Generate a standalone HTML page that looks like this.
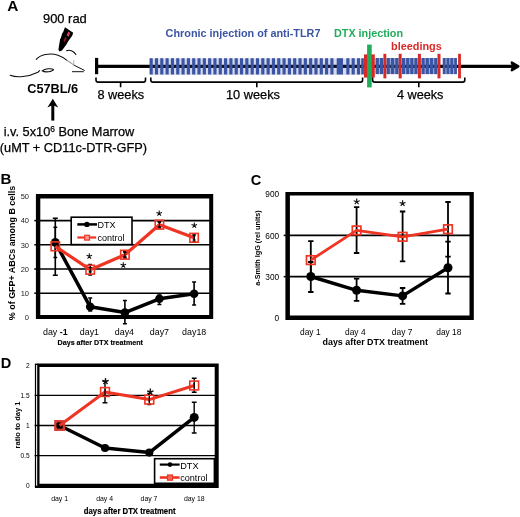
<!DOCTYPE html><html><head><meta charset="utf-8"><title>Figure</title>
<style>html,body{margin:0;padding:0;background:#fff;}body{width:520px;height:517px;overflow:hidden;}svg{display:block;}text{font-family:"Liberation Sans",sans-serif;fill:#000;}</style></head><body>
<svg width="520" height="517" viewBox="0 0 520 517">
<rect width="520" height="517" fill="#fff"/>
<g style="filter:blur(0.35px)">
<text x="7.3" y="11.0" font-size="15.4" font-weight="bold">A</text>
<text x="43.0" y="22.9" font-size="12.9" stroke="#000" stroke-width="0.25">900 rad</text>
<path d="M65.0,27.2 L73.2,32.8 L72.2,35.8 L68.4,41 L66.4,44.4 L62,50.4 L59.6,51.6 L58.4,49.8 L59.2,44.6 L60.2,38.8 L60.8,38.2 L62.2,33.2 L63,32.4 Z" fill="#000"/>
<path d="M68.3,31.4 L70.3,32.9 L68.4,36.8 L66.7,35.6 Z" fill="#dc4860"/>
<path d="M65.2,37.0 L66.5,37.9 L64.6,42.0 L63.5,41.2 Z" fill="#a8182c"/>
<g fill="none" stroke="#111" stroke-width="1.1" stroke-linecap="round">
<path d="M36.2,59.4 C40,54.6 50,52.4 58,55.2 C62,56.6 65,58.4 67,60.4"/>
<path d="M67,60.4 C69.5,61.8 72,63.4 73.9,65.1" stroke="#999"/>
<path d="M66.6,50.8 C69.5,49.4 73.6,50.6 75.9,54.6"/>
<path d="M73.9,65.1 L84.4,70.4" stroke-width="1"/>
<path d="M72.4,71.7 L83.4,71.7" stroke-width="1"/>
<path d="M73.6,60.6 L73.9,65.1" stroke="#bbb"/>
<path d="M10.2,75.3 C17,78 28,77 37.9,72.2 L39.6,70.6"/>
<path d="M42.2,70.8 C44.5,68.6 52,68.0 53.5,69.6 C52.5,71.8 45,72.8 42.2,70.8 Z"/>
</g>
<text x="27.2" y="93.2" font-size="12.75" font-weight="bold">C57BL/6</text>
<path d="M52.8,120.6 L52.8,104" stroke="#000" stroke-width="3" fill="none"/>
<path d="M52.8,98.8 L47.4,107.4 L52.8,105 L58.2,107.4 Z" fill="#000"/>
<text x="3.7" y="136.3" font-size="12.75" stroke="#000" stroke-width="0.25">i.v. 5x10<tspan font-size="8.4" dy="-4.6">6</tspan><tspan dy="4.6"> Bone Marrow</tspan></text>
<text x="-0.2" y="151.7" font-size="12.75" stroke="#000" stroke-width="0.25">(uMT + CD11c-DTR-GFP)</text>
<rect x="95.0" y="57.9" width="3.2" height="16.3" fill="#000"/>
<rect x="96" y="64.75" width="419" height="3.2" fill="#000"/>
<path d="M511.8,62.5 L518.3,66.35 L511.8,70.2 L513.4,66.35 Z" fill="#000" stroke="#000" stroke-width="2.4" stroke-linejoin="round" stroke-linecap="round"/>
<rect x="149.60" y="58.2" width="3.15" height="16.3" fill="#3b55a5"/>
<rect x="154.92" y="58.2" width="3.15" height="16.3" fill="#3b55a5"/>
<rect x="160.23" y="58.2" width="3.15" height="16.3" fill="#3b55a5"/>
<rect x="165.55" y="58.2" width="3.15" height="16.3" fill="#3b55a5"/>
<rect x="170.86" y="58.2" width="3.15" height="16.3" fill="#3b55a5"/>
<rect x="176.18" y="58.2" width="3.15" height="16.3" fill="#3b55a5"/>
<rect x="181.50" y="58.2" width="3.15" height="16.3" fill="#3b55a5"/>
<rect x="186.81" y="58.2" width="3.15" height="16.3" fill="#3b55a5"/>
<rect x="192.13" y="58.2" width="3.15" height="16.3" fill="#3b55a5"/>
<rect x="197.44" y="58.2" width="3.15" height="16.3" fill="#3b55a5"/>
<rect x="202.76" y="58.2" width="3.15" height="16.3" fill="#3b55a5"/>
<rect x="208.08" y="58.2" width="3.15" height="16.3" fill="#3b55a5"/>
<rect x="213.39" y="58.2" width="3.15" height="16.3" fill="#3b55a5"/>
<rect x="218.71" y="58.2" width="3.15" height="16.3" fill="#3b55a5"/>
<rect x="224.02" y="58.2" width="3.15" height="16.3" fill="#3b55a5"/>
<rect x="229.34" y="58.2" width="3.15" height="16.3" fill="#3b55a5"/>
<rect x="234.66" y="58.2" width="3.15" height="16.3" fill="#3b55a5"/>
<rect x="239.97" y="58.2" width="3.15" height="16.3" fill="#3b55a5"/>
<rect x="245.29" y="58.2" width="3.15" height="16.3" fill="#3b55a5"/>
<rect x="250.60" y="58.2" width="3.15" height="16.3" fill="#3b55a5"/>
<rect x="255.92" y="58.2" width="3.15" height="16.3" fill="#3b55a5"/>
<rect x="261.24" y="58.2" width="3.15" height="16.3" fill="#3b55a5"/>
<rect x="266.55" y="58.2" width="3.15" height="16.3" fill="#3b55a5"/>
<rect x="271.87" y="58.2" width="3.15" height="16.3" fill="#3b55a5"/>
<rect x="277.18" y="58.2" width="3.15" height="16.3" fill="#3b55a5"/>
<rect x="282.50" y="58.2" width="3.15" height="16.3" fill="#3b55a5"/>
<rect x="287.82" y="58.2" width="3.15" height="16.3" fill="#3b55a5"/>
<rect x="293.13" y="58.2" width="3.15" height="16.3" fill="#3b55a5"/>
<rect x="298.45" y="58.2" width="3.15" height="16.3" fill="#3b55a5"/>
<rect x="303.76" y="58.2" width="3.15" height="16.3" fill="#3b55a5"/>
<rect x="309.08" y="58.2" width="3.15" height="16.3" fill="#3b55a5"/>
<rect x="314.40" y="58.2" width="3.15" height="16.3" fill="#3b55a5"/>
<rect x="319.71" y="58.2" width="3.15" height="16.3" fill="#3b55a5"/>
<rect x="325.03" y="58.2" width="3.15" height="16.3" fill="#3b55a5"/>
<rect x="330.34" y="58.2" width="3.15" height="16.3" fill="#3b55a5"/>
<rect x="346.29" y="58.2" width="3.15" height="16.3" fill="#3b55a5"/>
<rect x="351.61" y="58.2" width="3.15" height="16.3" fill="#3b55a5"/>
<rect x="356.92" y="58.2" width="3.15" height="16.3" fill="#3b55a5"/>
<rect x="336.7" y="58.2" width="6.3" height="16.3" fill="#3b55a5"/>
<rect x="375.60" y="58.0" width="3.25" height="16.1" fill="#3b55a5"/>
<rect x="379.95" y="58.0" width="3.25" height="16.1" fill="#3b55a5"/>
<rect x="386.60" y="58.0" width="3.23" height="16.1" fill="#3b55a5"/>
<rect x="390.93" y="58.0" width="3.23" height="16.1" fill="#3b55a5"/>
<rect x="395.27" y="58.0" width="3.23" height="16.1" fill="#3b55a5"/>
<rect x="402.00" y="58.0" width="3.05" height="16.1" fill="#3b55a5"/>
<rect x="406.15" y="58.0" width="3.05" height="16.1" fill="#3b55a5"/>
<rect x="410.30" y="58.0" width="3.05" height="16.1" fill="#3b55a5"/>
<rect x="414.45" y="58.0" width="3.05" height="16.1" fill="#3b55a5"/>
<rect x="421.50" y="58.0" width="3.13" height="16.1" fill="#3b55a5"/>
<rect x="425.73" y="58.0" width="3.13" height="16.1" fill="#3b55a5"/>
<rect x="429.95" y="58.0" width="3.13" height="16.1" fill="#3b55a5"/>
<rect x="434.18" y="58.0" width="3.13" height="16.1" fill="#3b55a5"/>
<rect x="442.80" y="58.0" width="2.70" height="16.1" fill="#3b55a5"/>
<rect x="446.60" y="58.0" width="2.70" height="16.1" fill="#3b55a5"/>
<rect x="450.40" y="58.0" width="2.70" height="16.1" fill="#3b55a5"/>
<rect x="454.20" y="58.0" width="2.70" height="16.1" fill="#3b55a5"/>
<rect x="361.2" y="58.2" width="2.7" height="16.3" fill="#3b55a5"/>
<rect x="149.6" y="58.6" width="212" height="16.2" fill="#3b55a5" opacity="0.22"/>
<rect x="375.60" y="58.0" width="7.60" height="16.1" fill="#3b55a5" opacity="0.5"/>
<rect x="386.60" y="58.0" width="11.90" height="16.1" fill="#3b55a5" opacity="0.5"/>
<rect x="402.00" y="58.0" width="15.50" height="16.1" fill="#3b55a5" opacity="0.5"/>
<rect x="421.50" y="58.0" width="15.80" height="16.1" fill="#3b55a5" opacity="0.5"/>
<rect x="442.80" y="58.0" width="14.10" height="16.1" fill="#3b55a5" opacity="0.5"/>
<rect x="364" y="54.4" width="10.8" height="23.2" fill="#d62a26"/>
<rect x="383.40" y="53.8" width="2.90" height="24.6" fill="#d62a26"/>
<rect x="398.70" y="53.8" width="3.00" height="24.6" fill="#d62a26"/>
<rect x="417.90" y="53.8" width="3.00" height="24.6" fill="#d62a26"/>
<rect x="437.50" y="53.8" width="3.00" height="24.6" fill="#d62a26"/>
<rect x="458.10" y="53.8" width="2.80" height="24.6" fill="#d62a26"/>
<rect x="367.1" y="44.6" width="4.6" height="42.8" fill="#1fad5a"/>
<text x="165.6" y="37.2" font-size="10.85" font-weight="bold" style="fill:#3b55a5">Chronic injection of anti-TLR7</text>
<text x="334" y="37.2" font-size="10.8" font-weight="bold" style="fill:#1fad5a">DTX injection</text>
<text x="391.0" y="49.8" font-size="10.9" font-weight="bold" style="fill:#d62a26">bleedings</text>
<path d="M96.0,77.4 L96.0,79.9 Q96.0,82.1 98.2,82.1 L143.3,82.1 Q145.5,82.1 145.5,79.9 L145.5,77.4 M120.6,82.1 L120.6,87.3" fill="none" stroke="#000" stroke-width="1.6"/>
<path d="M150.8,77.4 L150.8,79.9 Q150.8,82.1 153.0,82.1 L360.4,82.1 Q362.6,82.1 362.6,79.9 L362.6,77.4 M256.8,82.1 L256.8,87.3" fill="none" stroke="#000" stroke-width="1.6"/>
<path d="M372.6,77.4 L372.6,79.9 Q372.6,82.1 374.8,82.1 L462.6,82.1 Q464.8,82.1 464.8,79.9 L464.8,77.4 M418.8,82.1 L418.8,87.3" fill="none" stroke="#000" stroke-width="1.6"/>
<text x="97.4" y="99.4" font-size="12.75" stroke="#000" stroke-width="0.25">8 weeks</text>
<text x="225.9" y="99.4" font-size="12.8" stroke="#000" stroke-width="0.25">10 weeks</text>
<text x="396.9" y="99.0" font-size="12.7" stroke="#000" stroke-width="0.25">4 weeks</text>
<text x="0.6" y="184.1" font-size="15.2" font-weight="bold">B</text>
<line x1="38.2" x2="210.3" y1="293.2" y2="293.2" stroke="#000" stroke-width="1.6"/>
<line x1="38.2" x2="210.3" y1="269.0" y2="269.0" stroke="#000" stroke-width="1.6"/>
<line x1="38.2" x2="210.3" y1="244.8" y2="244.8" stroke="#000" stroke-width="1.6"/>
<line x1="38.2" x2="210.3" y1="220.6" y2="220.6" stroke="#000" stroke-width="1.6"/>
<text x="29.0" y="320.1" font-size="7.5" text-anchor="end" style="fill:#222">0</text>
<text x="29.0" y="295.9" font-size="7.5" text-anchor="end" style="fill:#222">10</text>
<text x="29.0" y="271.7" font-size="7.5" text-anchor="end" style="fill:#222">20</text>
<text x="29.0" y="247.5" font-size="7.5" text-anchor="end" style="fill:#222">30</text>
<text x="29.0" y="223.3" font-size="7.5" text-anchor="end" style="fill:#222">40</text>
<text x="29.0" y="199.1" font-size="7.5" text-anchor="end" style="fill:#222">50</text>
<text transform="translate(14.9,320.2) rotate(-90)" font-size="9.9" font-weight="bold" textLength="134.4" lengthAdjust="spacingAndGlyphs">% of GFP+ ABCs among B cells</text>
<path d="M55.3,218.2 L55.3,275.2 M52.8,218.2 L57.8,218.2 M52.8,275.2 L57.8,275.2" stroke="#000" stroke-width="1.6" fill="none"/>
<path d="M90.2,298.0 L90.2,311.0 M88.2,298.0 L92.2,298.0 M88.2,311.0 L92.2,311.0" stroke="#000" stroke-width="1.6" fill="none"/>
<path d="M124.9,300.5 L124.9,323.8 M122.9,300.5 L126.9,300.5 M122.9,323.8 L126.9,323.8" stroke="#000" stroke-width="1.6" fill="none"/>
<path d="M159.4,295.0 L159.4,304.5 M157.4,295.0 L161.4,295.0 M157.4,304.5 L161.4,304.5" stroke="#000" stroke-width="1.6" fill="none"/>
<path d="M194.1,282.0 L194.1,305.0 M192.1,282.0 L196.1,282.0 M192.1,305.0 L196.1,305.0" stroke="#000" stroke-width="1.6" fill="none"/>
<path d="M55.3,227.3 L55.3,257.5 M53.4,227.3 L57.2,227.3 M53.4,257.5 L57.2,257.5" stroke="#000" stroke-width="1.5" fill="none"/>
<path d="M90.2,264.5 L90.2,275.0 M88.3,264.5 L92.1,264.5 M88.3,275.0 L92.1,275.0" stroke="#000" stroke-width="1.5" fill="none"/>
<path d="M124.9,251.5 L124.9,258.0 M123.0,251.5 L126.8,251.5 M123.0,258.0 L126.8,258.0" stroke="#000" stroke-width="1.5" fill="none"/>
<path d="M159.4,221.5 L159.4,228.0 M157.5,221.5 L161.3,221.5 M157.5,228.0 L161.3,228.0" stroke="#000" stroke-width="1.5" fill="none"/>
<path d="M194.1,234.0 L194.1,242.0 M192.2,234.0 L196.0,234.0 M192.2,242.0 L196.0,242.0" stroke="#000" stroke-width="1.5" fill="none"/>
<polyline points="55.3,242.4 90.2,306.8 124.9,312.6 159.4,298.8 194.1,293.7" fill="none" stroke="#000" stroke-width="3.5" stroke-linejoin="round"/>
<circle cx="55.3" cy="242.4" r="4.3" fill="#000"/>
<circle cx="90.2" cy="306.8" r="4.3" fill="#000"/>
<circle cx="124.9" cy="312.6" r="4.3" fill="#000"/>
<circle cx="159.4" cy="298.8" r="4.3" fill="#000"/>
<circle cx="194.1" cy="293.7" r="4.3" fill="#000"/>
<polyline points="55.3,246.3 90.2,269.7 124.9,254.7 159.4,224.7 194.1,237.8" fill="none" stroke="#ee3524" stroke-width="3.2" stroke-linejoin="round"/>
<rect x="51.1" y="241.9" width="8.4" height="8.8" fill="none" stroke="#ee3524" stroke-width="1.6"/>
<rect x="86.0" y="265.3" width="8.4" height="8.8" fill="none" stroke="#ee3524" stroke-width="1.6"/>
<rect x="120.7" y="250.3" width="8.4" height="8.8" fill="none" stroke="#ee3524" stroke-width="1.6"/>
<rect x="155.2" y="220.3" width="8.4" height="8.8" fill="none" stroke="#ee3524" stroke-width="1.6"/>
<rect x="189.9" y="233.4" width="8.4" height="8.8" fill="none" stroke="#ee3524" stroke-width="1.6"/>
<path d="M90.2,267.5 L90.2,271.9 M88.6,267.5 L91.8,267.5 M88.6,271.9 L91.8,271.9" stroke="#000" stroke-width="1.1" fill="none"/>
<path d="M124.9,252.5 L124.9,256.9 M123.3,252.5 L126.5,252.5 M123.3,256.9 L126.5,256.9" stroke="#000" stroke-width="1.1" fill="none"/>
<path d="M159.4,222.5 L159.4,226.9 M157.8,222.5 L161.0,222.5 M157.8,226.9 L161.0,226.9" stroke="#000" stroke-width="1.1" fill="none"/>
<path d="M194.1,235.6 L194.1,240.0 M192.5,235.6 L195.7,235.6 M192.5,240.0 L195.7,240.0" stroke="#000" stroke-width="1.1" fill="none"/>
<path fill-rule="evenodd" fill="#000" d="M35.90,194.10 H213.20 V319.00 H35.90 Z M40.30,198.40 H209.20 V314.90 H40.30 Z"/>
<rect x="34.3" y="292.45" width="2" height="1.5" fill="#000"/>
<rect x="34.3" y="268.25" width="2" height="1.5" fill="#000"/>
<rect x="34.3" y="244.05" width="2" height="1.5" fill="#000"/>
<rect x="34.3" y="219.85" width="2" height="1.5" fill="#000"/>
<rect x="71.2" y="217.2" width="60.8" height="27.4" fill="#fff" stroke="#000" stroke-width="1.6"/>
<line x1="77.3" x2="97" y1="224.4" y2="224.4" stroke="#000" stroke-width="2.5"/>
<circle cx="86.9" cy="224.4" r="2.7" fill="#000"/>
<text x="97.4" y="227.7" font-size="9">DTX</text>
<line x1="77.3" x2="96.2" y1="237.5" y2="237.5" stroke="#ee3524" stroke-width="2.2"/>
<rect x="84.7" y="235.3" width="4.8" height="4.8" fill="#f39a90" stroke="#ee3524" stroke-width="1.2"/>
<text x="97.4" y="240.7" font-size="9">control</text>
<path d="M89.30,256.20 L89.30,253.27 M89.30,256.20 L92.08,255.30 M89.30,256.20 L91.02,258.57 M89.30,256.20 L87.58,258.57 M89.30,256.20 L86.52,255.30" stroke="#111" stroke-width="1.05" fill="none"/>
<path d="M123.30,265.20 L123.30,262.27 M123.30,265.20 L126.08,264.30 M123.30,265.20 L125.02,267.57 M123.30,265.20 L121.58,267.57 M123.30,265.20 L120.52,264.30" stroke="#111" stroke-width="1.05" fill="none"/>
<path d="M159.20,213.40 L159.20,210.47 M159.20,213.40 L161.98,212.50 M159.20,213.40 L160.92,215.77 M159.20,213.40 L157.48,215.77 M159.20,213.40 L156.42,212.50" stroke="#111" stroke-width="1.05" fill="none"/>
<path d="M194.30,225.40 L194.30,222.47 M194.30,225.40 L197.08,224.50 M194.30,225.40 L196.02,227.77 M194.30,225.40 L192.58,227.77 M194.30,225.40 L191.52,224.50" stroke="#111" stroke-width="1.05" fill="none"/>
<text x="55.3" y="334.6" font-size="8.9" text-anchor="middle">day <tspan font-weight="bold">-1</tspan></text>
<text x="89.4" y="334.6" font-size="8.9" text-anchor="middle">day1</text>
<text x="124.4" y="334.6" font-size="8.9" text-anchor="middle">day4</text>
<text x="159.4" y="334.6" font-size="8.9" text-anchor="middle">day7</text>
<text x="194.2" y="334.6" font-size="8.9" text-anchor="middle">day18</text>
<text x="57.5" y="345.1" font-size="7.2" font-weight="bold" stroke="#000" stroke-width="0.15" textLength="85.5" lengthAdjust="spacingAndGlyphs">Days after DTX treatment</text>
<text x="250.8" y="184.8" font-size="14.6" font-weight="bold">C</text>
<line x1="287.5" x2="471.5" y1="276.6" y2="276.6" stroke="#000" stroke-width="1.6"/>
<line x1="287.5" x2="471.5" y1="235.4" y2="235.4" stroke="#000" stroke-width="1.6"/>
<text x="279.2" y="321.0" font-size="8.3" text-anchor="end">0</text>
<text x="279.2" y="279.8" font-size="8.3" text-anchor="end">300</text>
<text x="279.2" y="238.5" font-size="8.3" text-anchor="end">600</text>
<text x="279.2" y="197.2" font-size="8.3" text-anchor="end">900</text>
<text transform="translate(260.2,248) rotate(-90)" font-size="6.5" font-weight="bold" text-anchor="middle" textLength="75.5" lengthAdjust="spacingAndGlyphs">a-Smith IgG (rel units)</text>
<path d="M310.8,262.0 L310.8,292.0 M308.1,262.0 L313.5,262.0 M308.1,292.0 L313.5,292.0" stroke="#000" stroke-width="1.8" fill="none"/>
<path d="M356.6,278.6 L356.6,300.8 M353.9,278.6 L359.3,278.6 M353.9,300.8 L359.3,300.8" stroke="#000" stroke-width="1.8" fill="none"/>
<path d="M402.6,288.0 L402.6,303.8 M399.9,288.0 L405.3,288.0 M399.9,303.8 L405.3,303.8" stroke="#000" stroke-width="1.8" fill="none"/>
<path d="M448.0,241.7 L448.0,293.5 M445.3,241.7 L450.7,241.7 M445.3,293.5 L450.7,293.5" stroke="#000" stroke-width="1.8" fill="none"/>
<path d="M310.8,241.2 L310.8,277.0 M308.1,241.2 L313.5,241.2 M308.1,277.0 L313.5,277.0" stroke="#000" stroke-width="1.8" fill="none"/>
<path d="M356.6,207.2 L356.6,253.0 M353.9,207.2 L359.3,207.2 M353.9,253.0 L359.3,253.0" stroke="#000" stroke-width="1.8" fill="none"/>
<path d="M402.6,211.5 L402.6,261.3 M399.9,211.5 L405.3,211.5 M399.9,261.3 L405.3,261.3" stroke="#000" stroke-width="1.8" fill="none"/>
<path d="M448.0,202.0 L448.0,256.7 M445.3,202.0 L450.7,202.0 M445.3,256.7 L450.7,256.7" stroke="#000" stroke-width="1.8" fill="none"/>
<polyline points="310.8,276.5 356.6,290.3 402.6,295.9 448.0,267.7" fill="none" stroke="#000" stroke-width="3.4" stroke-linejoin="round"/>
<circle cx="310.8" cy="276.5" r="4.5" fill="#000"/>
<circle cx="356.6" cy="290.3" r="4.5" fill="#000"/>
<circle cx="402.6" cy="295.9" r="4.5" fill="#000"/>
<circle cx="448.0" cy="267.7" r="4.5" fill="#000"/>
<polyline points="310.8,260.1 356.6,230.4 402.6,236.8 448.0,229.2" fill="none" stroke="#ee3524" stroke-width="2.8" stroke-linejoin="round"/>
<rect x="306.5" y="255.8" width="8.6" height="8.6" fill="none" stroke="#ee3524" stroke-width="1.7"/>
<rect x="352.3" y="226.1" width="8.6" height="8.6" fill="none" stroke="#ee3524" stroke-width="1.7"/>
<rect x="398.3" y="232.5" width="8.6" height="8.6" fill="none" stroke="#ee3524" stroke-width="1.7"/>
<rect x="443.7" y="224.9" width="8.6" height="8.6" fill="none" stroke="#ee3524" stroke-width="1.7"/>
<path fill-rule="evenodd" fill="#000" d="M285.40,191.90 H473.80 V319.90 H285.40 Z M289.90,195.60 H469.50 V315.40 H289.90 Z"/>
<rect x="283.7" y="275.90" width="2.2" height="1.5" fill="#000"/>
<rect x="283.7" y="234.65" width="2.2" height="1.5" fill="#000"/>
<path d="M356.70,201.70 L356.70,198.55 M356.70,201.70 L359.70,200.73 M356.70,201.70 L358.55,204.25 M356.70,201.70 L354.85,204.25 M356.70,201.70 L353.70,200.73" stroke="#111" stroke-width="1.15" fill="none"/>
<path d="M402.60,203.40 L402.60,200.25 M402.60,203.40 L405.60,202.43 M402.60,203.40 L404.45,205.95 M402.60,203.40 L400.75,205.95 M402.60,203.40 L399.60,202.43" stroke="#111" stroke-width="1.15" fill="none"/>
<text x="310.3" y="335" font-size="8.4" text-anchor="middle">day 1</text>
<text x="355.3" y="335" font-size="8.4" text-anchor="middle">day 4</text>
<text x="402.1" y="335" font-size="8.4" text-anchor="middle">day 7</text>
<text x="448.8" y="335" font-size="8.4" text-anchor="middle">day 18</text>
<text x="322.5" y="345" font-size="8.6" font-weight="bold" textLength="105.5" lengthAdjust="spacingAndGlyphs">days after DTX treatment</text>
<text x="0.8" y="368.3" font-size="14.6" font-weight="bold">D</text>
<line x1="34.6" x2="216.7" y1="455.6" y2="455.6" stroke="#000" stroke-width="1.4"/>
<line x1="34.6" x2="216.7" y1="425.5" y2="425.5" stroke="#000" stroke-width="1.4"/>
<line x1="34.6" x2="216.7" y1="395.4" y2="395.4" stroke="#000" stroke-width="1.4"/>
<text x="29.6" y="488.2" font-size="6.6" text-anchor="end">0</text>
<text x="29.6" y="458.1" font-size="6.6" text-anchor="end">0.5</text>
<text x="29.6" y="428.0" font-size="6.6" text-anchor="end">1</text>
<text x="29.6" y="397.9" font-size="6.6" text-anchor="end">1.5</text>
<text x="29.6" y="367.8" font-size="6.6" text-anchor="end">2</text>
<text transform="translate(20.2,425) rotate(-90)" font-size="6.9" font-weight="bold" text-anchor="middle" textLength="47" lengthAdjust="spacingAndGlyphs">ratio to day 1</text>
<path d="M194.2,402.3 L194.2,433.0 M191.8,402.3 L196.6,402.3 M191.8,433.0 L196.6,433.0" stroke="#000" stroke-width="1.4" fill="none"/>
<path d="M105.0,381.4 L105.0,402.8 M102.6,381.4 L107.4,381.4 M102.6,402.8 L107.4,402.8" stroke="#000" stroke-width="1.4" fill="none"/>
<path d="M149.3,393.5 L149.3,404.5 M147.3,393.5 L151.3,393.5 M147.3,404.5 L151.3,404.5" stroke="#000" stroke-width="1.3" fill="none"/>
<path d="M194.2,378.2 L194.2,392.2 M191.8,378.2 L196.6,378.2 M191.8,392.2 L196.6,392.2" stroke="#000" stroke-width="1.4" fill="none"/>
<polyline points="59.6,425.5 105.0,448.0 149.3,452.6 194.2,417.4" fill="none" stroke="#000" stroke-width="3.5" stroke-linejoin="round"/>
<circle cx="59.6" cy="425.5" r="4.1" fill="#000"/>
<circle cx="105.0" cy="448.0" r="4.1" fill="#000"/>
<circle cx="149.3" cy="452.6" r="4.1" fill="#000"/>
<circle cx="194.2" cy="417.4" r="4.5" fill="#000"/>
<polyline points="59.6,425.5 105.0,392.0 149.3,399.6 194.2,385.5" fill="none" stroke="#ee3524" stroke-width="3" stroke-linejoin="round"/>
<rect x="55.3" y="421.2" width="8.6" height="8.6" fill="none" stroke="#d93a30" stroke-width="2.3"/>
<rect x="100.6" y="387.6" width="8.8" height="8.8" fill="none" stroke="#ee3524" stroke-width="1.6"/>
<rect x="144.9" y="395.2" width="8.8" height="8.8" fill="none" stroke="#ee3524" stroke-width="1.6"/>
<rect x="189.8" y="381.1" width="8.8" height="8.8" fill="none" stroke="#ee3524" stroke-width="1.6"/>
<path d="M105.0,389.6 L105.0,394.4 M104.9,389.6 L105.1,389.6 M104.9,394.4 L105.1,394.4" stroke="#000" stroke-width="1.3" fill="none"/>
<path d="M149.3,397.2 L149.3,402.0 M149.2,397.2 L149.4,397.2 M149.2,402.0 L149.4,402.0" stroke="#000" stroke-width="1.3" fill="none"/>
<path d="M194.2,383.1 L194.2,387.9 M194.1,383.1 L194.3,383.1 M194.1,387.9 L194.3,387.9" stroke="#000" stroke-width="1.3" fill="none"/>
<rect x="154.6" y="458.7" width="59.8" height="24.6" fill="#fff" stroke="#000" stroke-width="1.6"/>
<line x1="159.8" x2="179.6" y1="464.6" y2="464.6" stroke="#000" stroke-width="2.2"/>
<circle cx="170" cy="464.6" r="2.4" fill="#000"/>
<text x="180.2" y="468.6" font-size="9.2">DTX</text>
<line x1="159.8" x2="179.6" y1="477.5" y2="477.5" stroke="#ee3524" stroke-width="2.6"/>
<rect x="167.5" y="475" width="5" height="5.2" fill="#f26a5c" stroke="#ee3524" stroke-width="1.2"/>
<text x="180.2" y="481.2" font-size="9.1">control</text>
<path fill-rule="evenodd" fill="#000" d="M37.20,363.60 H218.70 V488.00 H37.20 Z M39.50,367.00 H214.70 V483.80 H39.50 Z"/>
<rect x="34.9" y="364.4" width="1.2" height="122.5" fill="#000"/>
<rect x="34.9" y="363.6" width="3" height="1.4" fill="#000"/>
<rect x="34.9" y="485.6" width="3" height="2.4" fill="#000"/>
<path d="M105.50,381.40 L105.50,378.02 M105.50,381.40 L108.71,380.36 M105.50,381.40 L107.48,384.13 M105.50,381.40 L103.52,384.13 M105.50,381.40 L102.29,380.36" stroke="#111" stroke-width="1.35" fill="none"/>
<path d="M150.30,392.00 L150.30,388.62 M150.30,392.00 L153.51,390.96 M150.30,392.00 L152.28,394.73 M150.30,392.00 L148.32,394.73 M150.30,392.00 L147.09,390.96" stroke="#111" stroke-width="1.35" fill="none"/>
<text x="59.6" y="500.7" font-size="6.9" text-anchor="middle">day 1</text>
<text x="104.6" y="500.7" font-size="6.9" text-anchor="middle">day 4</text>
<text x="149.0" y="500.7" font-size="6.9" text-anchor="middle">day 7</text>
<text x="194.3" y="500.7" font-size="6.9" text-anchor="middle">day 18</text>
<text x="83.8" y="514.4" font-size="9.2" font-weight="bold" stroke="#000" stroke-width="0.2" textLength="91.7" lengthAdjust="spacingAndGlyphs">days after DTX treatment</text>
</g></svg></body></html>
